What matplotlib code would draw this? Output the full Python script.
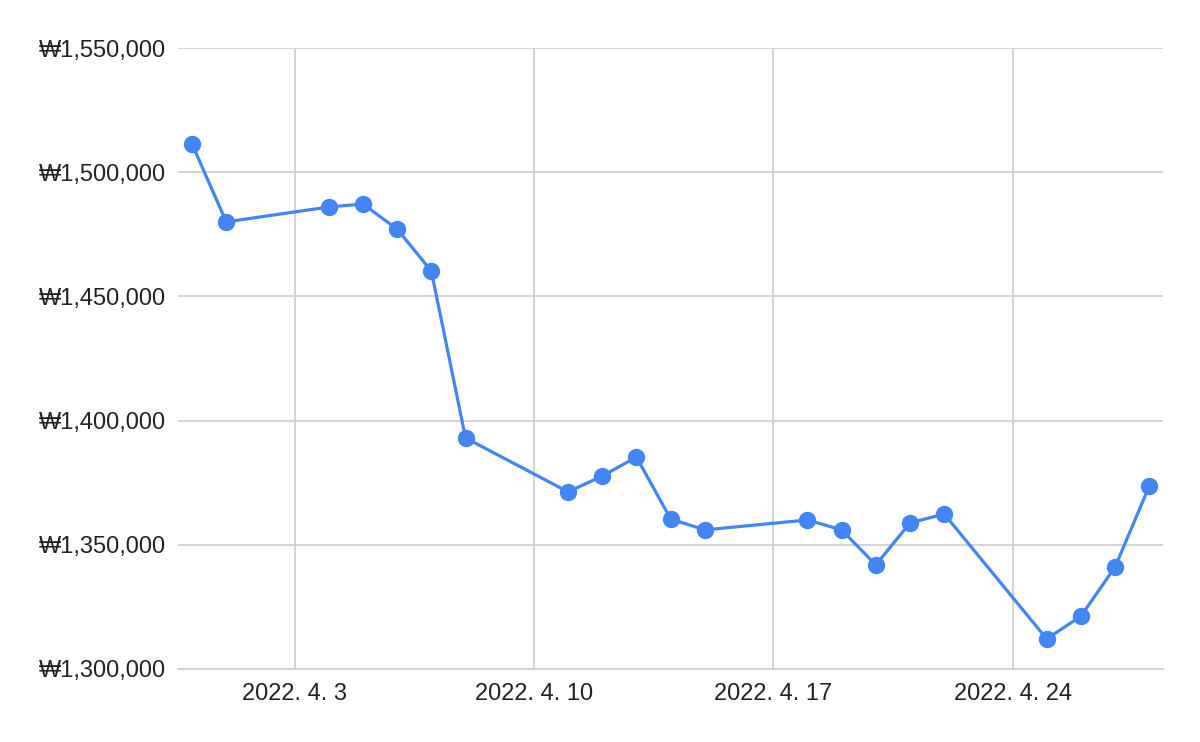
import matplotlib
matplotlib.use("Agg")
import matplotlib.pyplot as plt
import matplotlib.dates as mdates
from matplotlib.ticker import FuncFormatter, FixedLocator
import datetime as dt

dates = ["2022-03-31", "2022-04-01", "2022-04-04", "2022-04-05", "2022-04-06",
         "2022-04-07", "2022-04-08", "2022-04-11", "2022-04-12", "2022-04-13",
         "2022-04-14", "2022-04-15", "2022-04-18", "2022-04-19", "2022-04-20",
         "2022-04-21", "2022-04-22", "2022-04-25", "2022-04-26", "2022-04-27",
         "2022-04-28"]
values = [1511400, 1480000, 1486000, 1487200, 1477100,
          1460200, 1393000, 1371300, 1377700, 1385300,
          1360400, 1356000, 1360000, 1356000, 1341900,
          1358800, 1362400, 1312100, 1321300, 1341100,
          1373700]
x_ticks = ["2022-04-03", "2022-04-10", "2022-04-17", "2022-04-24"]
y_ticks = [1300000, 1350000, 1400000, 1450000, 1500000, 1550000]

plt.rcParams['font.family'] = ['Liberation Sans', 'DejaVu Sans']

xd = [dt.datetime.strptime(d, "%Y-%m-%d") for d in dates]
xt = [mdates.date2num(dt.datetime.strptime(d, "%Y-%m-%d")) for d in x_ticks]

fig = plt.figure(figsize=(12, 7.42), dpi=100)
ax = fig.add_axes([178/1200, 1 - 669/742, (1163-178)/1200, (669-48)/742])

ax.plot(xd, values, color="#4285F4", linewidth=2.3, marker="o",
        markersize=12.5, markeredgewidth=0, zorder=3, clip_on=False)

ax.set_xlim(mdates.date2num(xd[0]) - 0.41, mdates.date2num(xd[-1]) + 0.40)
ax.set_ylim(y_ticks[0], y_ticks[-1])
ax.xaxis.set_major_locator(FixedLocator(xt))
ax.xaxis.set_major_formatter(FuncFormatter(
    lambda v, p: (lambda d: f"{d.year}. {d.month}. {d.day}")(mdates.num2date(v))))
ax.yaxis.set_major_locator(FixedLocator(y_ticks))
ax.yaxis.set_major_formatter(FuncFormatter(lambda v, p: f"₩{int(v):,}"))

ax.grid(True, color="#cccccc", linewidth=1.2)
ax.set_axisbelow(True)
for s in ["top", "right", "left"]:
    ax.spines[s].set_visible(False)
ax.spines["bottom"].set_color("#cccccc")
ax.spines["bottom"].set_linewidth(1.2)
ax.tick_params(axis="both", length=0, labelsize=17, colors="#222222")
ax.tick_params(axis="y", pad=9)
ax.tick_params(axis="x", pad=10)

fig.savefig("out.png", dpi=100)
